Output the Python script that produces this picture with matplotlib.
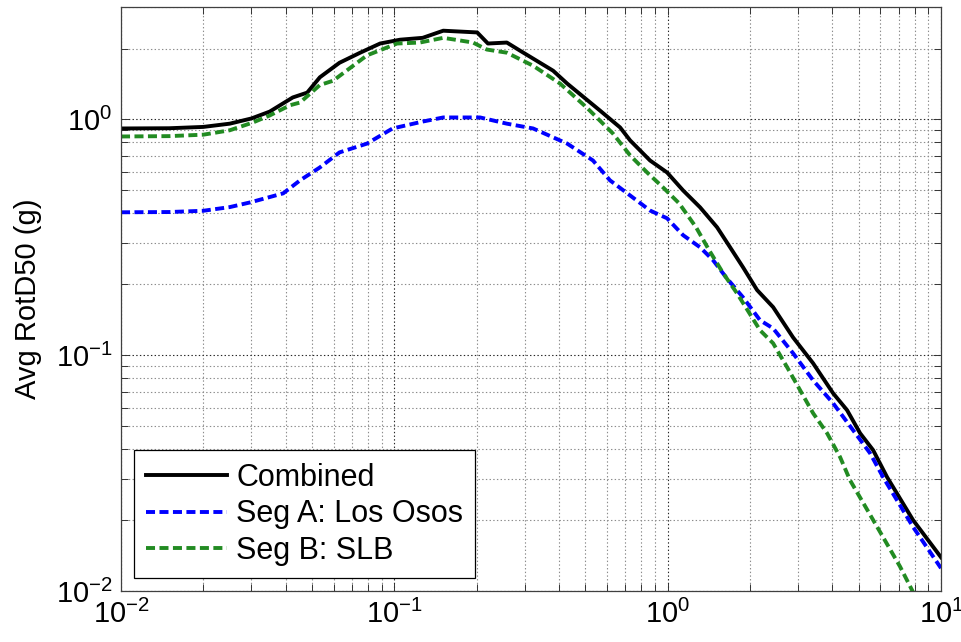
import matplotlib
matplotlib.use("Agg")
import matplotlib.pyplot as plt
from matplotlib.ticker import LogLocator, NullFormatter

plt.rcParams["font.family"] = ["Liberation Sans", "DejaVu Sans"]
plt.rcParams["mathtext.fontset"] = "custom"
plt.rcParams["mathtext.rm"] = "Liberation Sans"
plt.rcParams["mathtext.it"] = "Liberation Sans"
plt.rcParams["mathtext.default"] = "regular"
plt.rcParams["lines.scale_dashes"] = False

# Average RotD50 spectra (period in s, Sa in g)
T_comb = [0.01, 0.015, 0.02, 0.025, 0.03, 0.035, 0.0425, 0.048, 0.0534, 0.063,
          0.075, 0.0887, 0.105, 0.127, 0.151, 0.201, 0.22, 0.258, 0.288, 0.381,
          0.429, 0.566, 0.67, 0.729, 0.862, 0.995, 1.139, 1.314, 1.516, 1.692,
          1.887, 2.124, 2.431, 2.876, 3.404, 4.029, 4.532, 5.058, 5.644, 6.35,
          7.9, 10.0]
sa_comb = [0.916, 0.918, 0.93, 0.96, 1.01, 1.08, 1.24, 1.30, 1.51, 1.74,
           1.92, 2.10, 2.18, 2.22, 2.38, 2.34, 2.10, 2.12, 1.96, 1.61,
           1.42, 1.09, 0.925, 0.815, 0.67, 0.596, 0.50, 0.424, 0.349, 0.287,
           0.236, 0.189, 0.160, 0.119, 0.0925, 0.069, 0.0585, 0.0467, 0.0396, 0.0304,
           0.020, 0.0139]

T_a = [0.01, 0.015, 0.02, 0.025, 0.0297, 0.0392, 0.0452, 0.0534, 0.063, 0.0794,
       0.0985, 0.127, 0.151, 0.206, 0.258, 0.322, 0.429, 0.533, 0.615, 0.729,
       0.862, 0.995, 1.139, 1.314, 1.466, 1.636, 1.887, 2.178, 2.431, 2.876,
       3.404, 4.029, 4.767, 5.503, 6.14, 7.9, 10.0]
sa_a = [0.404, 0.405, 0.41, 0.425, 0.445, 0.486, 0.552, 0.626, 0.725, 0.79,
        0.916, 0.98, 1.02, 1.02, 0.96, 0.916, 0.79, 0.67, 0.552, 0.476,
        0.411, 0.381, 0.323, 0.287, 0.253, 0.214, 0.176, 0.1407, 0.130, 0.102,
        0.0783, 0.0626, 0.0481, 0.0384, 0.0304, 0.0187, 0.0125]

T_b = [0.01, 0.015, 0.02, 0.025, 0.0303, 0.035, 0.0416, 0.0452, 0.0534, 0.0597,
       0.0794, 0.1023, 0.124, 0.151, 0.194, 0.218, 0.258, 0.322, 0.404, 0.507,
       0.63, 0.729, 0.841, 0.962, 1.101, 1.27, 1.418, 1.595, 1.794, 2.178,
       2.431, 2.735, 3.051, 3.404, 3.83, 4.273, 4.648, 5.84, 7.08, 7.83, 10.0]
sa_b = [0.847, 0.85, 0.862, 0.90, 0.97, 1.04, 1.15, 1.18, 1.40, 1.46,
        1.87, 2.10, 2.12, 2.22, 2.12, 1.98, 1.92, 1.69, 1.42, 1.12,
        0.873, 0.704, 0.596, 0.515, 0.441, 0.349, 0.279, 0.223, 0.183, 0.1276,
        0.1124, 0.089, 0.0711, 0.0568, 0.0467, 0.037, 0.0295, 0.0187, 0.0127, 0.0101,
        0.0058]

fig = plt.figure(figsize=(9.61, 6.42), dpi=100)
ax = fig.add_axes([121 / 961, 51 / 642, 820 / 961, 584 / 642])

dash = (6.5, 3.2)
ax.plot(T_comb, sa_comb, color="black", lw=2.8, label="Combined")
ax.plot(T_a, sa_a, color="#0000ff", lw=2.8, dashes=dash, label="Seg A: Los Osos")
ax.plot(T_b, sa_b, color="#228b22", lw=2.8, dashes=dash, label="Seg B: SLB")

ax.set_xscale("log")
ax.set_yscale("log")
ax.set_xlim(0.01, 10)
ax.set_ylim(0.01, 3)

ax.xaxis.set_minor_locator(LogLocator(base=10, subs=range(2, 10)))
ax.yaxis.set_minor_locator(LogLocator(base=10, subs=range(2, 10)))
ax.xaxis.set_minor_formatter(NullFormatter())
ax.yaxis.set_minor_formatter(NullFormatter())

ax.tick_params(which="both", direction="in", top=True, right=True,
               color="0.2", width=0.7)
ax.tick_params(which="major", length=6, labelsize=21, pad=6)
ax.tick_params(which="minor", length=5)

ax.grid(True, which="major", linestyle=":", color="0.15", lw=0.8)
ax.grid(True, which="minor", linestyle=":", color="0.55", lw=0.8)
for s in ax.spines.values():
    s.set_color("0.25")
    s.set_linewidth(0.9)

ax.set_ylabel("Avg RotD50 (g)", fontsize=21, labelpad=10)

leg = ax.legend(loc="lower left", fontsize=22, handlelength=2.65,
                handletextpad=0.3, labelspacing=0.22, borderaxespad=0.42,
                borderpad=0.4, fancybox=False, framealpha=1)
leg.get_frame().set_edgecolor("black")
leg.get_frame().set_linewidth(0.9)

fig.savefig("out.png", dpi=100)
